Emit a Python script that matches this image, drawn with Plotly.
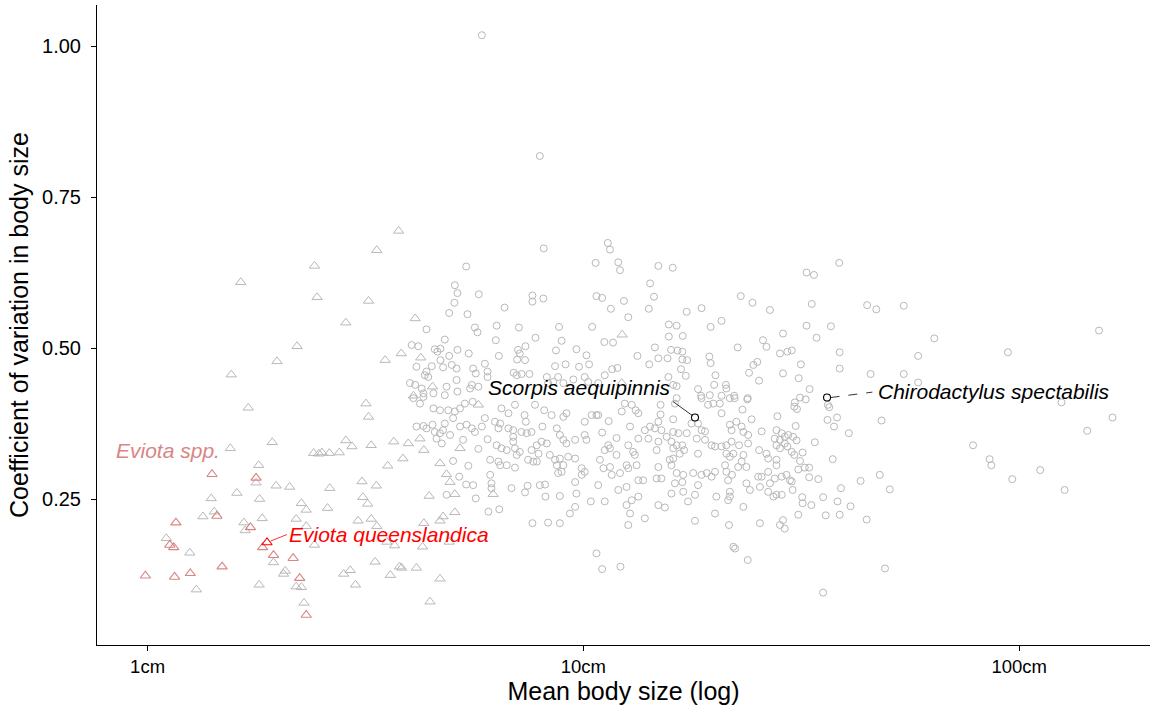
import numpy as np
import plotly.graph_objects as go

# Each entry: (log10 of mean body size in cm, coefficient of variation in body size)
other_species = [
    (0.767, 1.018), (0.900, 0.818),
    (0.909, 0.665), (1.028, 0.641), (0.731, 0.635), (0.705, 0.604), (0.711, 0.591), (0.760, 0.589),
    (0.704, 0.575), (0.692, 0.558), (0.734, 0.556), (0.883, 0.587), (0.883, 0.577), (0.908, 0.582),
    (0.819, 0.567), (1.030, 0.586), (0.640, 0.531), (0.751, 0.534), (0.757, 0.526), (0.801, 0.537),
    (0.852, 0.534), (0.944, 0.535), (1.020, 0.535), (0.682, 0.514), (0.799, 0.513), (0.890, 0.517),
    (0.950, 0.512), (0.606, 0.505), (0.621, 0.503), (0.659, 0.498), (0.665, 0.494), (0.672, 0.499),
    (0.711, 0.497), (0.692, 0.487), (0.737, 0.491), (0.672, 0.480), (0.806, 0.487), (0.850, 0.497),
    (0.854, 0.491), (0.867, 0.503), (0.848, 0.481), (0.866, 0.480), (0.937, 0.496), (0.984, 0.498),
    (1.007, 0.488), (0.617, 0.469), (0.652, 0.470), (0.678, 0.468), (0.698, 0.472), (0.709, 0.466),
    (0.774, 0.474), (0.747, 0.466), (0.753, 0.458), (0.780, 0.461), (0.780, 0.452), (0.840, 0.459),
    (0.847, 0.455), (0.858, 0.457), (0.876, 0.457), (0.935, 0.470), (0.959, 0.473), (0.990, 0.469),
    (1.013, 0.473), (0.640, 0.461), (0.644, 0.452), (0.636, 0.455), (0.602, 0.442), (0.614, 0.439),
    (0.629, 0.433), (0.633, 0.425), (0.656, 0.425), (0.686, 0.436), (0.709, 0.447), (0.711, 0.428),
    (0.744, 0.439), (0.740, 0.433), (0.759, 0.436), (0.916, 0.452), (0.942, 0.452), (0.919, 0.442),
    (0.931, 0.444), (0.954, 0.442), (0.977, 0.448), (1.003, 0.452), (1.011, 0.444), (0.682, 0.422),
    (0.610, 0.417), (0.625, 0.408), (0.633, 0.419), (0.656, 0.400), (0.671, 0.397), (0.690, 0.397),
    (0.705, 0.395), (0.717, 0.400), (0.728, 0.408), (0.746, 0.411), (0.812, 0.400), (0.828, 0.392),
    (0.843, 0.406), (0.889, 0.406), (0.910, 0.397), (0.927, 0.389), (0.954, 0.386), (0.961, 0.392),
    (0.865, 0.389), (0.868, 0.378), (1.003, 0.378), (1.019, 0.389), (1.030, 0.389), (0.617, 0.370),
    (0.633, 0.371), (0.640, 0.367), (0.654, 0.373), (0.682, 0.375), (0.701, 0.384), (0.717, 0.370),
    (0.732, 0.373), (0.744, 0.367), (0.751, 0.361), (0.767, 0.370), (0.774, 0.384), (0.797, 0.378),
    (0.805, 0.367), (0.809, 0.375), (0.828, 0.367), (0.659, 0.361), (0.671, 0.359), (0.678, 0.364),
    (0.694, 0.356), (0.663, 0.350), (0.858, 0.361), (0.870, 0.359), (0.881, 0.361), (0.839, 0.364),
    (0.839, 0.353), (0.839, 0.345), (0.906, 0.370), (0.939, 0.367), (0.946, 0.356), (0.954, 0.348),
    (0.961, 0.342), (0.981, 0.348), (1.003, 0.356), (1.007, 0.348), (0.780, 0.349), (0.724, 0.348),
    (0.759, 0.333), (0.801, 0.339), (0.812, 0.334), (0.824, 0.331), (0.675, 0.342), (0.843, 0.334),
    (0.847, 0.323), (0.854, 0.328), (0.881, 0.331), (0.893, 0.339), (0.904, 0.345), (0.916, 0.342),
    (0.923, 0.323), (0.897, 0.325), (0.873, 0.315), (0.885, 0.312), (0.893, 0.312), (0.786, 0.315),
    (0.805, 0.312), (0.809, 0.306), (0.824, 0.306), (0.843, 0.302), (0.701, 0.313), (0.736, 0.305),
    (0.935, 0.315), (0.946, 0.317), (0.965, 0.320), (0.981, 0.317), (0.939, 0.306), (0.954, 0.306),
    (0.942, 0.293), (0.950, 0.295), (0.996, 0.301), (0.996, 0.290), (1.003, 0.295), (0.715, 0.287),
    (0.731, 0.274), (0.747, 0.273), (0.786, 0.290), (0.789, 0.276), (0.789, 0.268), (0.753, 0.251),
    (0.782, 0.229), (0.807, 0.233), (0.835, 0.268), (0.866, 0.261), (0.872, 0.272), (0.900, 0.273),
    (0.912, 0.274), (0.913, 0.254), (0.946, 0.255), (0.984, 0.259), (0.981, 0.278), (1.017, 0.246),
    (0.969, 0.226), (0.981, 0.237), (0.883, 0.210), (0.919, 0.211), (0.946, 0.210), (1.030, 0.160),
    (0.686, 0.257),
    (1.043, 0.134), (1.085, 0.138), (1.377, 0.149), (1.692, 0.135), (1.550, 0.095),
    (1.056, 0.674), (1.061, 0.663), (1.080, 0.642), (1.084, 0.629), (1.172, 0.636), (1.205, 0.633),
    (1.153, 0.607), (1.162, 0.585), (1.150, 0.565), (1.043, 0.583), (1.093, 0.578), (1.063, 0.565),
    (1.103, 0.551), (1.237, 0.560), (1.271, 0.566), (1.361, 0.586), (1.388, 0.575), (1.428, 0.563),
    (1.196, 0.539), (1.214, 0.537), (1.196, 0.519), (1.228, 0.520), (1.292, 0.535), (1.317, 0.545),
    (1.458, 0.524), (1.412, 0.513), (1.420, 0.502), (1.354, 0.501), (1.451, 0.491), (1.468, 0.494),
    (1.478, 0.496), (1.048, 0.510), (1.068, 0.509), (1.164, 0.501), (1.124, 0.487), (1.172, 0.483),
    (1.193, 0.483), (1.201, 0.497), (1.216, 0.496), (1.227, 0.494), (1.227, 0.481), (1.238, 0.480),
    (1.151, 0.473), (1.224, 0.465), (1.235, 0.454), (1.195, 0.452), (1.206, 0.439), (1.214, 0.437),
    (1.289, 0.486), (1.292, 0.475), (1.303, 0.455), (1.300, 0.439), (1.327, 0.439), (1.328, 0.433),
    (1.290, 0.422), (1.317, 0.421), (1.346, 0.421), (1.263, 0.432), (1.270, 0.421), (1.377, 0.417),
    (1.380, 0.459), (1.390, 0.472), (1.399, 0.477), (1.403, 0.446), (1.458, 0.458), (1.049, 0.455),
    (1.066, 0.465), (1.078, 0.467), (1.034, 0.442),
    (1.214, 0.417), (1.271, 0.417), (1.286, 0.406), (1.298, 0.408), (1.313, 0.408), (1.336, 0.417),
    (1.347, 0.417), (1.376, 0.415), (1.365, 0.398), (1.088, 0.395), (1.111, 0.406), (1.120, 0.397),
    (1.126, 0.392), (1.095, 0.408), (1.034, 0.389), (1.058, 0.379), (1.177, 0.406), (1.177, 0.390),
    (1.206, 0.382), (1.210, 0.408), (1.317, 0.392), (1.386, 0.382), (1.445, 0.387), (1.484, 0.403),
    (1.043, 0.360), (1.076, 0.351), (1.107, 0.370), (1.141, 0.364), (1.153, 0.370), (1.164, 0.367),
    (1.172, 0.378), (1.179, 0.364), (1.191, 0.353), (1.206, 0.361), (1.218, 0.359), (1.237, 0.359),
    (1.248, 0.375), (1.263, 0.375), (1.271, 0.364), (1.279, 0.362), (1.260, 0.350), (1.336, 0.373),
    (1.351, 0.378), (1.363, 0.370), (1.340, 0.364), (1.367, 0.361), (1.378, 0.356), (1.409, 0.362),
    (1.443, 0.364), (1.455, 0.359), (1.470, 0.356), (1.481, 0.353), (1.439, 0.350), (1.451, 0.348),
    (1.462, 0.353), (1.057, 0.339), (1.049, 0.331), (1.061, 0.334), (1.076, 0.323), (1.103, 0.339),
    (1.114, 0.328), (1.118, 0.323), (1.126, 0.350), (1.149, 0.350), (1.168, 0.331), (1.172, 0.345),
    (1.202, 0.345), (1.206, 0.334), (1.214, 0.339), (1.227, 0.339), (1.231, 0.331), (1.221, 0.325),
    (1.206, 0.317), (1.198, 0.315), (1.263, 0.325), (1.279, 0.348), (1.294, 0.339), (1.302, 0.337),
    (1.317, 0.337), (1.328, 0.339), (1.340, 0.345), (1.357, 0.339), (1.328, 0.325), (1.336, 0.320),
    (1.344, 0.325), (1.367, 0.323), (1.378, 0.342), (1.403, 0.331), (1.420, 0.325), (1.424, 0.317),
    (1.443, 0.339), (1.451, 0.334), (1.468, 0.337), (1.478, 0.328), (1.443, 0.315), (1.443, 0.306),
    (1.462, 0.342), (1.038, 0.315), (1.046, 0.301), (1.061, 0.303), (1.065, 0.290), (1.084, 0.293),
    (1.099, 0.306), (1.103, 0.301), (1.122, 0.306), (1.172, 0.303), (1.179, 0.284), (1.202, 0.306),
    (1.214, 0.293), (1.210, 0.276), (1.227, 0.278), (1.229, 0.290), (1.252, 0.293), (1.271, 0.290),
    (1.283, 0.293), (1.294, 0.287), (1.302, 0.295), (1.325, 0.306), (1.328, 0.295), (1.332, 0.281),
    (1.341, 0.290), (1.355, 0.303), (1.363, 0.312), (1.374, 0.303), (1.374, 0.276), (1.382, 0.265),
    (1.401, 0.287), (1.409, 0.287), (1.424, 0.295), (1.428, 0.276), (1.439, 0.284), (1.455, 0.287),
    (1.466, 0.290), (1.474, 0.281), (1.443, 0.257), (1.455, 0.257), (1.034, 0.273), (1.080, 0.265),
    (1.099, 0.270), (1.126, 0.281), (1.137, 0.281), (1.168, 0.284), (1.202, 0.259), (1.229, 0.262),
    (1.240, 0.246), (1.256, 0.257), (1.263, 0.273), (1.305, 0.254), (1.336, 0.262), (1.336, 0.254),
    (1.332, 0.248), (1.367, 0.237), (1.405, 0.270), (1.424, 0.262), (1.436, 0.254), (1.049, 0.246),
    (1.099, 0.240), (1.111, 0.248), (1.126, 0.254), (1.107, 0.226), (1.103, 0.207), (1.141, 0.218),
    (1.172, 0.240), (1.187, 0.236), (1.302, 0.226), (1.256, 0.214), (1.334, 0.207), (1.405, 0.210),
    (1.451, 0.207), (1.458, 0.215), (1.462, 0.201), (1.348, 0.168), (1.344, 0.171),
    (1.587, 0.641), (1.512, 0.625), (1.529, 0.621), (1.524, 0.573), (1.651, 0.571), (1.672, 0.564),
    (1.735, 0.570), (1.512, 0.537), (1.568, 0.536), (1.535, 0.517), (1.805, 0.516), (2.183, 0.529),
    (1.974, 0.493), (1.768, 0.487), (1.588, 0.493), (1.499, 0.473), (1.494, 0.450), (1.588, 0.466),
    (1.659, 0.457), (1.735, 0.457), (1.768, 0.443), (1.519, 0.432), (1.497, 0.418), (1.510, 0.415),
    (1.485, 0.410), (1.490, 0.399), (1.561, 0.406), (1.564, 0.402), (2.097, 0.410), (2.214, 0.385),
    (1.560, 0.381), (1.582, 0.385), (1.575, 0.370), (1.684, 0.380), (1.487, 0.371), (2.156, 0.363),
    (1.609, 0.359), (1.531, 0.344), (1.489, 0.347), (1.484, 0.323), (1.503, 0.327), (1.497, 0.313),
    (1.508, 0.302), (1.518, 0.302), (1.493, 0.299), (1.572, 0.316), (1.518, 0.286), (1.539, 0.283),
    (1.478, 0.279), (1.480, 0.265), (1.636, 0.280), (1.680, 0.290), (1.703, 0.266), (1.591, 0.268),
    (1.502, 0.253), (1.503, 0.243), (1.523, 0.240), (1.550, 0.253), (1.583, 0.246), (1.613, 0.238),
    (1.493, 0.224), (1.556, 0.223), (1.588, 0.224), (1.650, 0.216), (1.894, 0.339), (1.932, 0.316),
    (1.936, 0.306), (1.984, 0.283), (2.048, 0.298), (2.104, 0.265),
]

goby_species = [
    (0.576, 0.694), (0.526, 0.662), (0.383, 0.636), (0.214, 0.609), (0.389, 0.584), (0.507, 0.578),
    (0.455, 0.542), (0.343, 0.503), (0.297, 0.478), (0.192, 0.456), (0.582, 0.491), (0.545, 0.480),
    (0.231, 0.401), (0.501, 0.408), (0.507, 0.386), (0.286, 0.344), (0.455, 0.347), (0.469, 0.337),
    (0.513, 0.339), (0.565, 0.345), (0.190, 0.334), (0.381, 0.326), (0.393, 0.325), (0.400, 0.327),
    (0.417, 0.326), (0.440, 0.327), (0.586, 0.317), (0.551, 0.305), (0.255, 0.306), (0.249, 0.277),
    (0.295, 0.272), (0.326, 0.270), (0.205, 0.260), (0.146, 0.251), (0.257, 0.250), (0.418, 0.268),
    (0.492, 0.279), (0.525, 0.272), (0.494, 0.253), (0.505, 0.242), (0.353, 0.243), (0.364, 0.232),
    (0.413, 0.235), (0.127, 0.221), (0.153, 0.229), (0.263, 0.218), (0.221, 0.211), (0.224, 0.198),
    (0.341, 0.217), (0.364, 0.205), (0.483, 0.214), (0.513, 0.217), (0.526, 0.205), (0.043, 0.185),
    (0.097, 0.161), (0.289, 0.145), (0.383, 0.174), (0.112, 0.100), (0.256, 0.108), (0.312, 0.126),
    (0.316, 0.131), (0.341, 0.105), (0.353, 0.104), (0.359, 0.078), (0.450, 0.126), (0.465, 0.132),
    (0.477, 0.108), (0.522, 0.146), (0.557, 0.124), (0.578, 0.138), (0.549, 0.179), (0.567, 0.173),
    (0.614, 0.549), (0.627, 0.484), (0.654, 0.436), (0.610, 0.421), (0.759, 0.406), (0.625, 0.350),
    (0.598, 0.342), (0.634, 0.331), (0.671, 0.309), (0.717, 0.334), (0.686, 0.291), (0.694, 0.278),
    (0.705, 0.258), (0.646, 0.255), (0.793, 0.258), (0.705, 0.228), (0.678, 0.221), (0.671, 0.214),
    (0.634, 0.210), (0.692, 0.179), (0.631, 0.171), (0.583, 0.136), (0.617, 0.136), (0.671, 0.118),
    (0.648, 0.080), (1.089, 0.522), (1.088, 0.442),
]

eviota_spp = [
    (0.148, 0.291), (0.249, 0.285), (0.159, 0.222), (0.065, 0.211), (0.236, 0.203), (0.051, 0.174),
    (0.060, 0.170), (0.264, 0.170), (0.289, 0.157), (0.334, 0.152), (0.171, 0.138), (-0.005, 0.123),
    (0.062, 0.121), (0.098, 0.127), (0.349, 0.119), (0.364, 0.058),
]

eviota_queenslandica = (0.274, 0.178)
scorpis_aequipinnis = (1.256, 0.385)
chirodactylus_spectabilis = (1.559, 0.418)

x_tick_values = [1, 10, 100]
x_tick_labels = ["1cm", "10cm", "100cm"]
y_tick_values = [0.25, 0.50, 0.75, 1.00]

GREY = "#b8b8b8"
PINK = "#d98585"
RED = "#ff0000"
FONT = "Liberation Sans, Arial, sans-serif"
LABEL_SIZE = 21


def unpack(pairs):
    logs, cvs = zip(*pairs)
    return list(10 ** np.array(logs)), list(cvs)


fig = go.Figure()

ox, oy = unpack(other_species)
fig.add_trace(go.Scatter(x=ox, y=oy, mode="markers",
                         marker=dict(symbol="circle-open", size=7, color=GREY,
                                     line=dict(width=1, color=GREY))))

gx, gy = unpack(goby_species)
fig.add_trace(go.Scatter(x=gx, y=gy, mode="markers",
                         marker=dict(symbol="triangle-up-open", size=9, color=GREY,
                                     line=dict(width=1, color=GREY))))

ex, ey = unpack(eviota_spp)
fig.add_trace(go.Scatter(x=ex, y=ey, mode="markers",
                         marker=dict(symbol="triangle-up-open", size=9, color=PINK,
                                     line=dict(width=1.1, color=PINK))))

qx, qy = unpack([eviota_queenslandica])
fig.add_trace(go.Scatter(x=qx, y=qy, mode="markers",
                         marker=dict(symbol="triangle-up-open", size=9, color=RED,
                                     line=dict(width=1.1, color=RED))))

hx, hy = unpack([scorpis_aequipinnis, chirodactylus_spectabilis])
fig.add_trace(go.Scatter(x=hx, y=hy, mode="markers",
                         marker=dict(symbol="circle-open", size=7, color="black",
                                     line=dict(width=1.1, color="black"))))

# dashed leader from Chirodactylus spectabilis to its label
cx, cy = chirodactylus_spectabilis
fig.add_trace(go.Scatter(x=[10 ** (cx + 0.008), 10 ** (cx + 0.104)], y=[cy, cy + 0.009],
                         mode="lines", line=dict(color="black", width=0.8, dash="dash")))

annotations = [
    dict(x=scorpis_aequipinnis[0], y=scorpis_aequipinnis[1], xref="x", yref="y",
         text="<i>Scorpis aequipinnis</i>", showarrow=True, arrowhead=0, arrowwidth=0.8,
         arrowcolor="black", standoff=3, ax=-22, ay=-16, xanchor="right", yanchor="bottom",
         font=dict(size=LABEL_SIZE, color="black", family=FONT)),
    dict(x=cx, y=cy, xref="x", yref="y", text="<i>Chirodactylus spectabilis</i>",
         showarrow=False, xanchor="left", yanchor="middle", xshift=49, yshift=6,
         font=dict(size=LABEL_SIZE, color="black", family=FONT)),
    dict(x=eviota_queenslandica[0], y=eviota_queenslandica[1], xref="x", yref="y",
         text="<i>Eviota queenslandica</i>", showarrow=True, arrowhead=0, arrowwidth=0.8,
         arrowcolor=RED, standoff=4, ax=20, ay=-8, xanchor="left", yanchor="middle",
         font=dict(size=LABEL_SIZE, color=RED, family=FONT)),
    dict(x=0.046, y=0.331, xref="x", yref="y", text="<i>Eviota spp.</i>", showarrow=False,
         xanchor="center", yanchor="middle", font=dict(size=LABEL_SIZE, color=PINK, family=FONT)),
]

fig.update_layout(
    width=1154, height=713,
    margin=dict(l=97, r=4, t=5, b=68),
    paper_bgcolor="white", plot_bgcolor="white",
    showlegend=False,
    font=dict(family=FONT, size=18, color="black"),
    annotations=annotations,
)

fig.update_xaxes(
    type="log", range=[-0.116, 2.3],
    tickvals=x_tick_values, ticktext=x_tick_labels,
    ticks="outside", ticklen=5, tickcolor="black", tickwidth=1,
    showline=True, linecolor="black", linewidth=1,
    showgrid=False, zeroline=False,
    tickfont=dict(size=18.5, color="black"),
    title=dict(text="Mean body size (log)", font=dict(size=25, color="black"), standoff=6),
)
fig.update_yaxes(
    range=[0.0083, 1.068],
    tickvals=y_tick_values, tickformat=".2f",
    ticks="outside", ticklen=5, tickcolor="black", tickwidth=1,
    ticklabelstandoff=6,
    showline=True, linecolor="black", linewidth=1,
    showgrid=False, zeroline=False,
    tickfont=dict(size=20, color="black"),
    title=dict(text="Coefficient of variation in body size", font=dict(size=25, color="black"),
               standoff=6),
)

fig.write_html("out.html")
